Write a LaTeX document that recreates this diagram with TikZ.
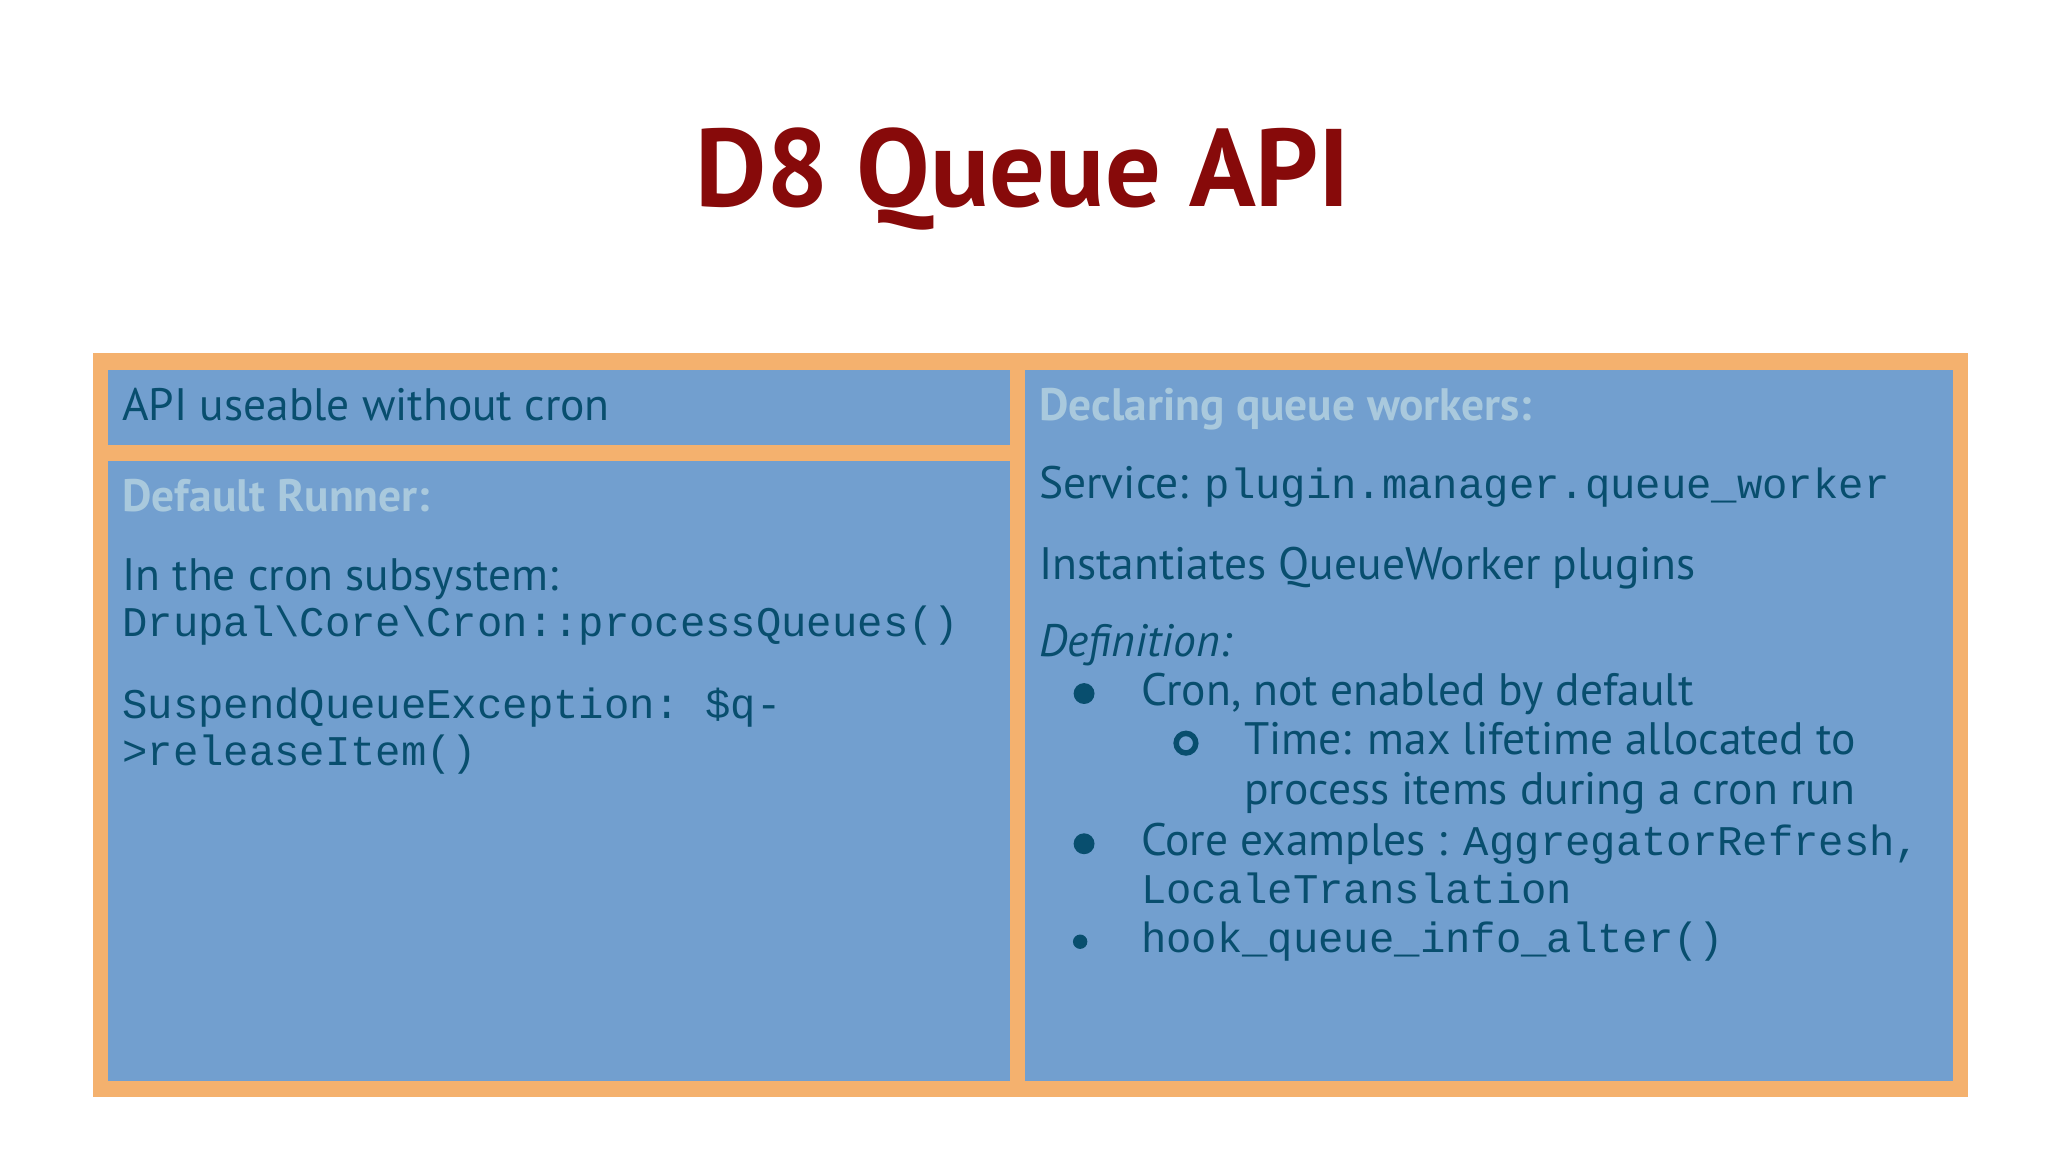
\documentclass[tikz,border=0pt]{standalone}
\usepackage{fontspec}
\setmainfont{PT Sans}
\setmonofont{Liberation Mono}
\definecolor{org}{HTML}{F4B16E}
\definecolor{blu}{HTML}{729FCF}
\definecolor{dtx}{HTML}{084E6E}
\definecolor{ltx}{HTML}{A9C9DD}
\definecolor{ttl}{HTML}{870A0A}
\tikzset{
 txt/.style={anchor=base west,inner sep=0pt,text=dtx,font=\fontsize{9.9}{12}\selectfont},
 hdr/.style={txt,text=ltx,font=\fontsize{9.9}{12}\selectfont\bfseries},
 mono/.style={txt,font=\fontsize{9.2}{11}\ttfamily},
 panel/.style={fill=blu,draw=none}
}
\begin{document}
\begin{tikzpicture}[x=0.01cm,y=-0.01cm]
\useasboundingbox (0,0) rectangle (1568,882);
\fill[white] (0,0) rectangle (1568,882);
\node[anchor=base,inner sep=0pt,text=ttl,font=\fontsize{24}{28}\selectfont\bfseries] (title) at (783,158) {D8 Queue API};
\fill[org] (71,270) rectangle (1507,840);
\fill[panel] (83,283) rectangle (773,341);
\fill[panel] (83,353) rectangle (773,828);
\fill[panel] (785,283) rectangle (1495,828);
\node[txt] (a) at (93,322) {API useable without cron};
\node[hdr] (b) at (93,392) {Default Runner:};
\node[txt] (c) at (93,452) {In the cron subsystem:};
\node[mono] (d) at (93,487) {Drupal\textbackslash Core\textbackslash Cron::processQueues()};
\node[mono] (e) at (93,550) {SuspendQueueException: \$q-};
\node[mono] (f) at (93,586) {>releaseItem()};
\node[hdr] (g) at (795,322) {Declaring queue workers:};
\node[txt] (h) at (795,382) {Service: \texttt{\fontsize{9.2}{11}\selectfont plugin.manager.queue\_worker}};
\node[txt] (i) at (795,444) {Instantiates QueueWorker plugins};
\node[txt] (j) at (795,503) {\itshape Definition:};
\fill[dtx] (830,531) circle (8);
\node[txt] (k) at (873,540) {Cron, not enabled by default};
\draw[dtx,line width=1.2pt] (908,569) circle (7.5);
\node[txt] (l) at (952,578) {Time: max lifetime allocated to};
\node[txt] (m) at (952,616) {process items during a cron run};
\fill[dtx] (830,646) circle (8);
\node[txt] (n) at (873,655) {Core examples : \texttt{\fontsize{9.2}{11}\selectfont AggregatorRefresh,}};
\node[mono] (o) at (873,692) {LocaleTranslation};
\fill[dtx] (827,721) circle (5.5);
\node[mono] (p) at (873,729) {hook\_queue\_info\_alter()};
\end{tikzpicture}
\end{document}
